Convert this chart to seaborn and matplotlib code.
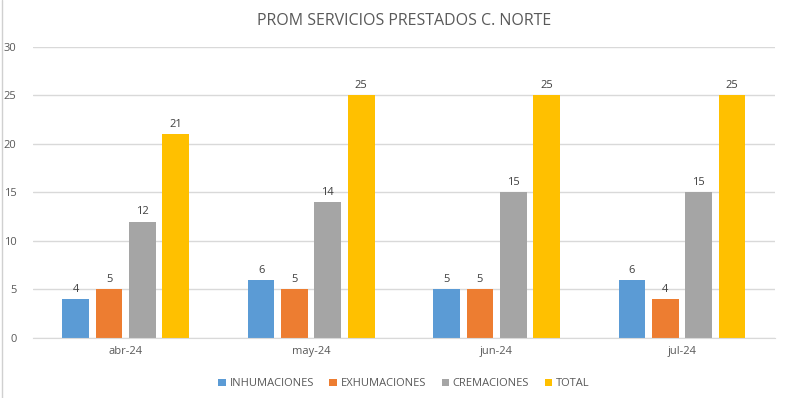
import numpy as np
import pandas as pd
import seaborn as sns
from matplotlib import pyplot as plt
from matplotlib.lines import Line2D

# datos
meses = ["abr-24", "may-24", "jun-24", "jul-24"]
series = ["INHUMACIONES", "EXHUMACIONES", "CREMACIONES", "TOTAL"]
inhumaciones = [4, 6, 5, 6]
exhumaciones = [5, 5, 5, 4]
cremaciones = [12, 14, 15, 15]
total = [21, 25, 25, 25]
colores = ["#5B9BD5", "#ED7D31", "#A5A5A5", "#FFC000"]

df = pd.DataFrame({
    "mes": meses * 4,
    "serie": np.repeat(series, 4),
    "valor": inhumaciones + exhumaciones + cremaciones + total,
})

sns.set_style("white")
plt.rcParams["font.family"] = ["Open Sans", "DejaVu Sans"]
gris = "#595959"

fig = plt.figure(figsize=(7.88, 3.98), dpi=100)
ax = fig.add_axes([0.042, 0.151, 0.941, 0.731])

sns.barplot(data=df, x="mes", y="valor", hue="serie", order=meses, hue_order=series,
            palette=colores, width=0.72, gap=0.2, saturation=1, linewidth=0,
            ax=ax, legend=True)

for c in ax.containers:
    ax.bar_label(c, padding=3, fontsize=8, color="#404040")

ax.set_ylim(0, 30)
ax.set_yticks(range(0, 31, 5))
ax.set_xlim(-0.5, 3.5)
ax.yaxis.grid(True, color="#D9D9D9", linewidth=1)
ax.set_axisbelow(True)
for s in ["top", "right", "left"]:
    ax.spines[s].set_visible(False)
ax.spines["bottom"].set_color("#D9D9D9")
ax.tick_params(axis="y", length=0, labelsize=8, labelcolor=gris, pad=12)
ax.tick_params(axis="x", length=0, labelsize=8, labelcolor=gris, pad=6)
ax.set_xticks([-0.5, 0.5, 1.5, 2.5, 3.5], minor=True)
ax.tick_params(axis="x", which="minor", length=5, color="#D9D9D9")
ax.set_xlabel("")
ax.set_ylabel("")

ax.set_title("PROM SERVICIOS PRESTADOS C. NORTE", fontsize=11.5, color=gris, pad=16)

handles, labels = ax.get_legend_handles_labels()
ax.legend(handles, labels, loc="upper center", bbox_to_anchor=(0.5, -0.105), ncol=4,
          frameon=False, fontsize=8, labelcolor=gris, handlelength=0.7,
          handleheight=0.7, handletextpad=0.3, columnspacing=1.4)

# borde izquierdo de la hoja
fig.add_artist(Line2D([0.003, 0.003], [0, 1], color="#D0D0D0", linewidth=1))

plt.savefig("out.png", dpi=100)
